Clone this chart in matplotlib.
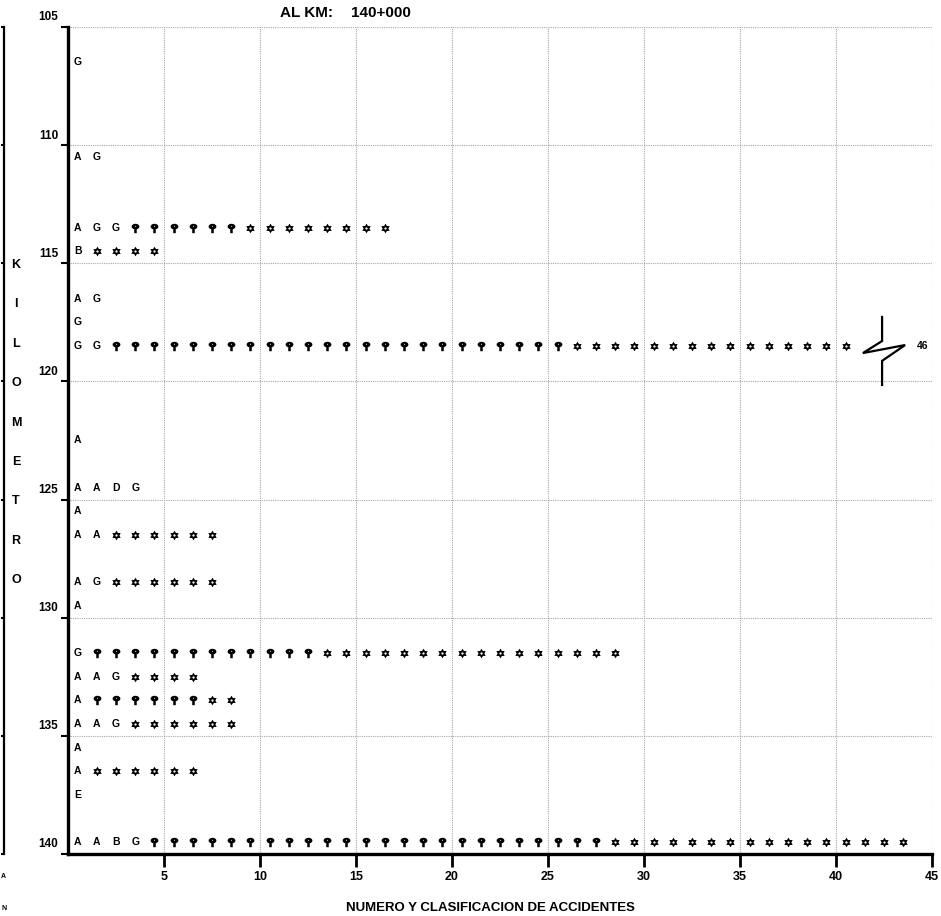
import numpy as np
import matplotlib
matplotlib.use('Agg')
import matplotlib.pyplot as plt
from matplotlib.path import Path
from matplotlib.transforms import ScaledTranslation

plt.rcParams['font.family'] = ['Liberation Sans', 'DejaVu Sans']

# ---------------- data ----------------
row_km = [106, 110, 113, 114, 116, 117, 118, 122, 124, 125, 126,
          128, 129, 131, 132, 133, 134, 135, 136, 137, 139]
row_letters = ["G", "AG", "AGG", "B", "AG", "G", "GG", "A", "AADG", "A", "AA",
               "AG", "A", "G", "AAG", "A", "AAG", "A", "A", "E", "AABG"]
row_cross = [0, 0, 6, 0, 0, 0, 24, 0, 0, 0, 0,
             0, 0, 12, 0, 6, 0, 0, 0, 0, 24]
row_star = [0, 0, 8, 4, 0, 0, 15, 0, 0, 0, 6,
            6, 0, 16, 4, 2, 6, 0, 6, 0, 16]
row_total = [1, 2, 17, 5, 2, 1, 46, 1, 4, 1, 8,
             8, 1, 29, 7, 9, 9, 1, 7, 1, 44]

x_ticks = [5, 10, 15, 20, 25, 30, 35, 40, 45]
y_ticks = [105, 110, 115, 120, 125, 130, 135, 140]
title_parts = ["AL KM:", "140+000"]
xlabel = "NUMERO Y CLASIFICACION DE ACCIDENTES"
ylabel_letters = list("KILOMETRO")

# ---------------- markers ----------------
# rounded-head cross (single polygon: wide round head + stem)
ax_r, ay_r, cy = 0.62, 0.45, 0.3
sa = np.arcsin(0.2 / ax_r)
arc = np.linspace(-np.pi / 2 + sa, 3 * np.pi / 2 - sa, 41)
head = np.column_stack([ax_r * np.cos(arc), cy + ay_r * np.sin(arc)])
cross_verts = np.vstack([[(0.2, -0.75)], head, [(-0.2, -0.75)], [(0.2, -0.75)]])
cross_outer = Path(cross_verts, closed=True)
dang = np.deg2rad(-np.linspace(0, 360, 13))
dot = np.column_stack([0.08 * np.cos(dang), 0.35 + 0.08 * np.sin(dang)])
cross_marker = Path.make_compound_path(cross_outer, Path(dot, closed=True))

# six-pointed star with hollow centre
ang = np.deg2rad(90 + 30 * np.arange(12))
rad = np.where(np.arange(12) % 2 == 0, 1.0, 0.6)
star_pts = np.column_stack([rad * np.cos(ang), rad * np.sin(ang)])
star_path = Path(np.vstack([star_pts, star_pts[:1]]), closed=True)
hang = np.deg2rad(-30 * np.arange(12))
hole_pts = np.column_stack([0.24 * np.cos(hang), 0.24 * np.sin(hang)])
hole_path = Path(np.vstack([hole_pts, hole_pts[:1]]), closed=True)
star_marker = Path.make_compound_path(star_path, hole_path)

# ---------------- figure ----------------
fig = plt.figure(figsize=(9.41, 9.16), dpi=100)
ax = fig.add_axes([68 / 941, 1 - 854 / 916, 864 / 941, 827 / 916])
ax.set_xlim(0, 45)
ax.set_ylim(140, 105)

for km, letters, nc, ns, tot in zip(row_km, row_letters, row_cross, row_star, row_total):
    y = km + 0.5
    for i, ch in enumerate(letters):
        ax.text(i + 0.5, y, ch, ha='center', va='center', fontsize=7.5,
                fontweight='bold', zorder=4)
    start = len(letters)
    if nc:
        xs = start + 0.5 + np.arange(nc)
        ax.scatter(xs, np.full(nc, y), marker=cross_marker, s=46, c='black',
                   linewidths=0, zorder=4)
    if ns:
        xs = start + nc + 0.5 + np.arange(ns)
        ax.scatter(xs, np.full(ns, y), marker=star_marker, s=48, c='black',
                   linewidths=0, zorder=4)
    drawn = start + nc + ns
    if tot > drawn:
        bx = drawn + 1.4
        dx = np.array([0, 0, -1.0, 1.2, 0, 0])
        dy = np.array([-1.23, -0.21, 0.3, -0.04, 0.63, 1.65])
        ax.plot(bx + dx, y + dy, color='black', lw=1.6, zorder=4,
                solid_joinstyle='miter')
        ax.text(drawn + 3.5, y, str(tot), ha='center', va='center',
                fontsize=7.5, fontweight='bold')

# axes styling
ax.set_xticks(x_ticks)
ax.set_yticks(y_ticks)
ax.grid(True, color='#a8a8a8', linestyle=(0, (1, 1)), linewidth=0.8, zorder=0)
ax.set_axisbelow(True)
for s in ['top', 'right']:
    ax.spines[s].set_visible(False)
for s in ['left', 'bottom']:
    ax.spines[s].set_linewidth(2.4)
    ax.spines[s].set_zorder(5)
ax.tick_params(axis='x', length=9.5, width=2, pad=3, labelsize=9)
ax.tick_params(axis='y', length=5, width=1.5, pad=2, labelsize=8.5)
for lab in ax.get_xticklabels():
    lab.set_fontweight('bold')
off = ScaledTranslation(0, 0.11, fig.dpi_scale_trans)
for lab in ax.get_yticklabels():
    lab.set_fontweight('bold')
    lab.set_transform(lab.get_transform() + off)

# outer bracket axis
sec = ax.secondary_yaxis(-(64.5 / 864))
sec.set_yticks(y_ticks)
sec.tick_params(length=2.5, width=1.5, labelleft=False, labelright=False)
sec.spines['left'].set_linewidth(1.6)

# texts
fig.text(307 / 941, 1 - 13 / 916, title_parts[0], ha='center', va='center',
         fontsize=11, fontweight='bold')
fig.text(381 / 941, 1 - 13 / 916, title_parts[1], ha='center', va='center',
         fontsize=11, fontweight='bold')
fig.text(490 / 941, 1 - 908 / 916, xlabel, ha='center', va='center',
         fontsize=9.5, fontweight='bold')
for k, ch in enumerate(ylabel_letters):
    fig.text(16 / 941, 1 - (265 + 39.4 * k) / 916, ch, ha='center', va='center',
             fontsize=9, fontweight='bold')
fig.text(1 / 941, 1 - 877 / 916, 'A', ha='left', va='center', fontsize=5, fontweight='bold')
fig.text(1 / 941, 1 - 908 / 916, 'N', ha='left', va='center', fontsize=5, fontweight='bold')

fig.savefig('out.png', dpi=100)
